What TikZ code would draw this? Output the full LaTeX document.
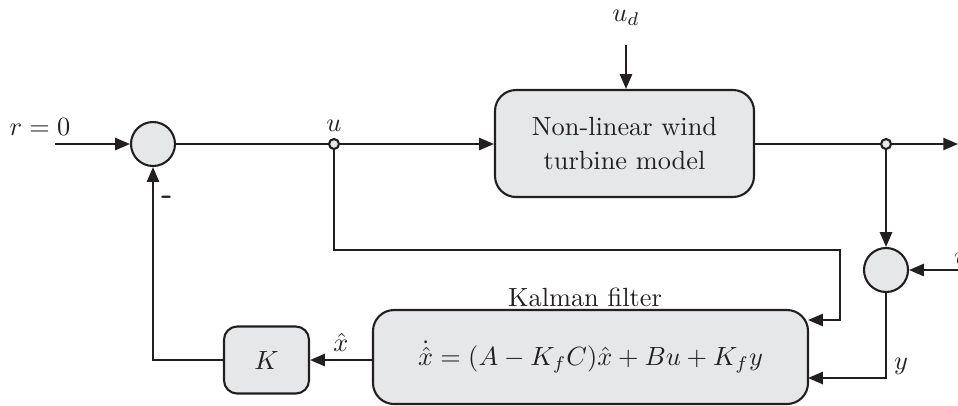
\documentclass[tikz,border=0pt]{standalone}
\usetikzlibrary{arrows.meta,positioning}
\definecolor{boxfill}{HTML}{E6E7E8}
\definecolor{ink}{HTML}{231F20}
\begin{document}
\begin{tikzpicture}[x=0.38pt,y=-0.38pt,
  line width=0.8pt, draw=ink,
  every node/.style={text=ink},
  tip/.style={-{Triangle[length=5.6pt,width=4.6pt]}},
  blockbox/.style={draw=ink,fill=boxfill,rounded corners=8pt,inner sep=0pt,align=center},
  sumnode/.style={circle,draw=ink,fill=boxfill,minimum size=44*0.38pt,inner sep=0pt},
  tapnode/.style={circle,draw=ink,fill=boxfill,minimum size=10*0.38pt,inner sep=0pt},
  lbl/.style={inner sep=1pt}]
\useasboundingbox (0,0) rectangle (958,405);

% blocks
\node[blockbox,minimum width=259*0.38pt,minimum height=107*0.38pt] (plant) at (624.5,143.5)
  {Non-linear wind\\[1pt]turbine model};
\node[blockbox,minimum width=435*0.38pt,minimum height=94*0.38pt] (kf) at (590.5,357)
  {$\dot{\hat{x}} = (A-K_fC)\hat{x} + Bu + K_f y$};
\node[blockbox,rounded corners=5pt,minimum width=85*0.38pt,minimum height=67*0.38pt] (K) at (266.5,360) {$K$};

% summing points and branch points
\node[sumnode] (s1) at (153,144) {};
\node[sumnode] (s2) at (886,270) {};
\node[tapnode] (tu) at (334,144) {};
\node[tapnode] (ty) at (886,144) {};

% free ends
\coordinate (rin) at (55,144);
\coordinate (out) at (958,144);
\coordinate (udin) at (626,45);
\coordinate (vin) at (975,270);
\coordinate (kfu) at (808,320);
\coordinate (kfy) at (808,378);
\coordinate (kfx) at (373,360);

% labels
\node[lbl] (rl) at (40,127) {$r=0$};
\node[lbl] (ul) at (334,126) {$u$};
\node[lbl] (udl) at (626,18) {$u_d$};
\node[lbl] (vl) at (961,259) {$v$};
\node[lbl] (yl) at (901,366) {$y$};
\node[lbl] (xl) at (341,342) {$\hat{x}$};
\node[lbl] (kfl) at (585,297) {Kalman filter};
\node[lbl,font=\bfseries\sffamily\large] (minus) at (167,200) {-};

% forward path
\draw[tip] (rin) -- (s1);
\draw (s1) -- (tu);
\draw[tip] (tu) -- (plant.west |- tu);
\draw[tip] (udin) -- (udin |- plant.north);
\draw (plant.east |- ty) -- (ty);
\draw[tip] (ty) -- (out);

% measurement path
\draw[tip] (ty) -- (s2);
\draw[tip] (vin) -- (s2);
\draw[tip] (s2) |- (kfy);
\draw[tip] (tu) |- (840,250) |- (kfu);

% estimator feedback
\draw[tip] (kfx) -- (K);
\draw[tip] (K) -| (s1);
\end{tikzpicture}
\end{document}
